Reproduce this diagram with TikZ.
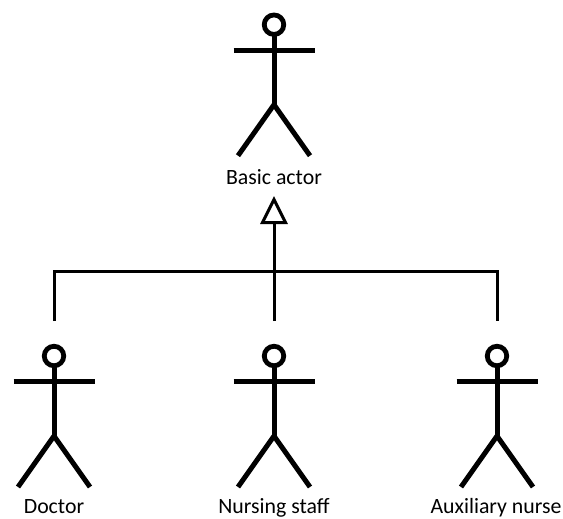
\documentclass[tikz,border=0pt]{standalone}
\usepackage{fontspec}
\setmainfont{Carlito}
\usetikzlibrary{arrows.meta}
\tikzset{
  limb/.style={line width=5pt},
  headball/.style={draw, circle, line width=4.8pt, minimum size=19.5pt, inner sep=0pt, outer sep=0pt},
  actorname/.style={anchor=base, font=\fontsize{21.8pt}{24pt}\selectfont, inner sep=0pt},
  link/.style={line width=3pt},
  actor/.pic={
    \node[headball] (-head) at (0,0) {};
    \coordinate (-hip) at (0,80);
    \coordinate (-armL) at (-40.5,25.5);
    \coordinate (-armR) at (40.5,25.5);
    \coordinate (-footL) at (-36,131);
    \coordinate (-footR) at (36,131);
    \draw[limb] (-head.south) -- (-hip);
    \draw[limb] (-armL) -- (-armR);
    \draw[limb] (-footL) -- (-hip) -- (-footR);
  }
}
\begin{document}
\begin{tikzpicture}[x=1pt, y=-1pt]
\useasboundingbox (0,0) rectangle (563,519);
\pic (basic) at (274,24.7) {actor};
\pic (doctor) at (54,356) {actor};
\pic (nursing) at (274,356) {actor};
\pic (auxiliary) at (497,356) {actor};

\node[actorname] (basicName) at (274,184) {Basic actor};
\node[actorname] (doctorName) at (54,513) {Doctor};
\node[actorname] (nursingName) at (274,513) {Nursing staff};
\node[actorname] (auxiliaryName) at (496,513) {Auxiliary nurse};

% ends of the connectors
\coordinate (apex) at (274,196);
\coordinate (junction) at (274,271.5);
\coordinate (doctorTop) at (54,321);
\coordinate (nursingTop) at (274,321);
\coordinate (auxiliaryTop) at (497,321);

\draw[link, -{Triangle[open, length=28pt, width=27pt, line width=3pt]}] (nursingTop) -- (apex);
\draw[link] (doctorTop) |- (junction) -| (auxiliaryTop);
\end{tikzpicture}
\end{document}
